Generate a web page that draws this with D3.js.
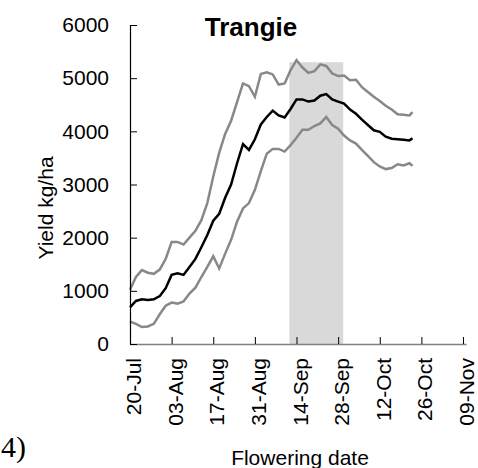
<!DOCTYPE html>
<html>
<head>
<meta charset="utf-8">
<script src="https://cdn.jsdelivr.net/npm/d3@7"></script>
<style>
  body { margin: 0; background: #fff; }
  text { font-family: Arial, "Liberation Sans", sans-serif; }
</style>
</head>
<body>
<svg id="svg" width="478" height="468"></svg>
<script>
// days after 20-Jul (flowering date), sampled every 2 days
var days = [0, 2, 4, 6, 8, 10, 12, 14, 16, 18, 20, 22, 24, 26, 28, 30, 32, 34, 36, 38,
    40, 42, 44, 46, 48, 50, 52, 54, 56, 58, 60, 62, 64, 66, 68, 70, 72, 74, 76, 78,
    80, 82, 84, 86, 88, 90, 92, 94, 95]

var yieldMean = [690, 810, 840, 830, 840, 900, 1050, 1300, 1330, 1300, 1450, 1600, 1820, 2050, 2320, 2450, 2750, 3000, 3400, 3760,
    3650, 3850, 4130, 4270, 4390, 4300, 4260, 4420, 4600, 4600, 4560, 4580, 4670, 4700, 4600, 4560, 4520, 4410, 4330, 4220,
    4120, 4020, 3990, 3900, 3860, 3850, 3840, 3830, 3870]

var yieldUpper = [1020, 1260, 1390, 1340, 1320, 1400, 1600, 1920, 1920, 1870, 2000, 2130, 2330, 2650, 3150, 3600, 3950, 4200, 4550, 4900,
    4850, 4650, 5080, 5110, 5070, 4880, 4900, 5150, 5340, 5200, 5100, 5130, 5260, 5230, 5090, 5040, 5050, 4960, 4970, 4830,
    4740, 4650, 4570, 4480, 4410, 4320, 4310, 4300, 4360]

var yieldLower = [420, 380, 320, 330, 380, 560, 720, 780, 760, 800, 950, 1060, 1260, 1450, 1650, 1420, 1700, 1960, 2300, 2550,
    2650, 2900, 3250, 3580, 3670, 3670, 3620, 3740, 3880, 4030, 4030, 4100, 4150, 4270, 4120, 4050, 3920, 3830, 3770, 3650,
    3540, 3420, 3340, 3290, 3310, 3380, 3360, 3400, 3350]

var tickLabels = ["20-Jul", "03-Aug", "17-Aug", "31-Aug", "14-Sep", "28-Sep", "12-Oct", "26-Oct", "09-Nov"]
var yTicks = [0, 1000, 2000, 3000, 4000, 5000, 6000]

// shaded window (days after 20-Jul) and its top
var shadeDays = [53.6, 71.7]
var shadeTop = 5300

var svg = d3.select("#svg"),
    margin = { top: 25, left: 130 },
    width = 336,
    height = 319

var g = svg.append("g")
    .attr("transform", translate(margin.left, margin.top))

var x = d3.scaleLinear().domain([0, 113]).range([0, width])
var y = d3.scaleLinear().domain([0, 6000]).range([height, 0])

// shaded period
g.append("rect")
    .attr("x", x(shadeDays[0]))
    .attr("y", y(shadeTop))
    .attr("width", x(shadeDays[1]) - x(shadeDays[0]))
    .attr("height", y(0) - y(shadeTop))
    .attr("fill", "#d9d9d9")

var line = d3.line()
    .x(function (d, i) { return x(days[i]) })
    .y(function (d) { return y(d) })

g.append("path").datum(yieldUpper).attr("d", line)
    .attr("fill", "none").attr("stroke", "#888").attr("stroke-width", 2.5)
g.append("path").datum(yieldLower).attr("d", line)
    .attr("fill", "none").attr("stroke", "#888").attr("stroke-width", 2.5)
g.append("path").datum(yieldMean).attr("d", line)
    .attr("fill", "none").attr("stroke", "#000").attr("stroke-width", 2.5)

// x axis
var xAxis = g.append("g")
    .attr("transform", translate(0, height))
    .call(d3.axisBottom(x)
        .tickValues(tickLabels.map(function (d, i) { return i * 14 }))
        .tickFormat(function (d, i) { return tickLabels[i] })
        .tickSize(-7)
        .tickSizeOuter(0))
xAxis.select(".domain").attr("stroke", "#808080").attr("stroke-width", 1.5)
xAxis.selectAll(".tick line").attr("stroke", "#000")
xAxis.selectAll("text")
    .attr("font-size", 21)
    .attr("fill", "#000")
    .attr("text-anchor", "end")
    .attr("transform", "rotate(-90)")
    .attr("x", -14)
    .attr("y", 0)
    .attr("dy", "0.5em")

// y axis
var yAxis = g.append("g")
    .call(d3.axisLeft(y)
        .tickValues(yTicks)
        .tickFormat(d3.format("d"))
        .tickSize(-7)
        .tickSizeOuter(0)
        .tickPadding(21))
yAxis.select(".domain").attr("stroke", "#000").attr("stroke-width", 1.2)
yAxis.selectAll("text").attr("font-size", 21).attr("fill", "#000")

// labels
svg.append("text")
    .attr("transform", translate(53, 208) + " rotate(-90)")
    .attr("text-anchor", "middle")
    .attr("font-size", 21)
    .text("Yield kg/ha")

svg.append("text")
    .attr("x", 300).attr("y", 465)
    .attr("text-anchor", "middle")
    .attr("font-size", 21)
    .text("Flowering date")

svg.append("text")
    .attr("x", 251).attr("y", 36)
    .attr("text-anchor", "middle")
    .attr("font-size", 26)
    .attr("font-weight", "bold")
    .text("Trangie")

svg.append("text")
    .attr("x", 1).attr("y", 457)
    .attr("font-size", 30)
    .style("font-family", "'Times New Roman', 'Liberation Serif', serif")
    .text("4)")

function translate(x, y) {
    return "translate(" + x + "," + y + ")"
}
</script>
</body>
</html>
